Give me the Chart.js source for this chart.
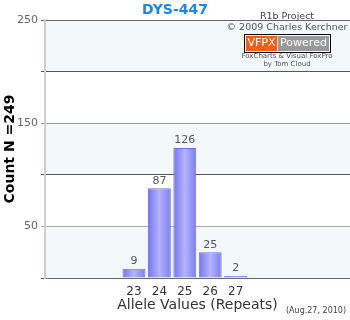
<!DOCTYPE html>
<html><head><meta charset="utf-8">
<script src="https://cdn.jsdelivr.net/npm/chart.js@4"></script>
<style>html,body{margin:0;padding:0;background:#fff}</style>
</head>
<body>
<canvas id="c" width="350" height="320" style="display:block;width:350px;height:320px"></canvas>
<script>
const categories = ['20','21','22','23','24','25','26','27','28','29','30','31'];
const shownCategories = ['23','24','25','26','27'];
const counts = [null,null,null,9,87,126,25,2,null,null,null,null];
const yTickLabels = [250,150,50];
const chartTitle = 'DYS-447';
const yTitle = 'Count N =249';
const xTitle = 'Allele Values (Repeats)';
const dateNote = '(Aug.27, 2010)';
const credits = ['R1b Project','\u00A9 2009 Charles Kerchner'];
const badge = ['VFPX','Powered'];
const credits2 = ['FoxCharts & Visual FoxPro','by Tom Cloud'];

const F = 'DejaVu Sans, Verdana, sans-serif';
const gridColors = {0:'#666',50:'#aaa',100:'#555',150:'#999',200:'#555',250:'#666'};

const bands = {
  id:'bands',
  beforeDraw(chart){
    const {ctx, chartArea:a, scales:{y}} = chart;
    ctx.save();
    ctx.fillStyle='#f3f8fa';
    [[0,50],[100,150],[200,250]].forEach(([lo,hi])=>{
      const t=y.getPixelForValue(hi), b=y.getPixelForValue(lo);
      ctx.fillRect(a.left,t,a.right-a.left,b-t);
    });
    ctx.restore();
  }
};

const labelsPlugin = {
  id:'valueLabels',
  afterDatasetsDraw(chart){
    const {ctx} = chart;
    const meta = chart.getDatasetMeta(0);
    ctx.save();
    ctx.font = '11px '+F;
    ctx.fillStyle = '#555';
    ctx.textAlign='center';
    ctx.textBaseline='bottom';
    meta.data.forEach((el,i)=>{
      const v = counts[i];
      if(v==null) return;
      ctx.fillText(String(v), el.x, el.y-2);
    });
    ctx.restore();
  }
};

const textPlugin = {
  id:'texts',
  afterDraw(chart){
    const {ctx} = chart;
    ctx.save();
    ctx.textAlign='center';
    ctx.textBaseline='middle';
    ctx.fillStyle='#1a88f0';
    ctx.font='bold 14px '+F;
    ctx.fillText(chartTitle,175,10);
    // credits
    ctx.fillStyle='#444';
    ctx.font='9.5px '+F;
    ctx.fillText(credits[0],287,17);
    ctx.fillStyle='#555';
    ctx.fillText(credits[1],287,28);
    // badge
    ctx.fillStyle='#000';
    ctx.fillRect(244,34,87,19);
    ctx.fillStyle='#fff';
    ctx.fillRect(245,35,85,17);
    ctx.fillStyle='#f06010';
    ctx.fillRect(246,36,31,15);
    ctx.fillStyle='#999';
    ctx.fillRect(278,36,51,15);
    ctx.fillStyle='#fff';
    ctx.font='11px '+F;
    ctx.fillText(badge[0],261.5,43.5);
    ctx.fillText(badge[1],303.5,43.5);
    ctx.fillStyle='#555';
    ctx.font='7px '+F;
    ctx.fillText(credits2[0],287,56);
    ctx.fillText(credits2[1],287,64);
    // date
    ctx.fillStyle='#444';
    ctx.font='8px '+F;
    ctx.fillText(dateNote,316,311);
    ctx.restore();
  }
};

function barGradient(c){
  const chart=c.chart;
  const x=chart.scales && chart.scales.x;
  if(!x || !chart.chartArea) return '#9090f8';
  const cx=x.getPixelForValue(c.dataIndex);
  const w=(x.right-x.left)/categories.length*0.9;
  const g=chart.ctx.createLinearGradient(cx-w/2,0,cx+w/2,0);
  g.addColorStop(0,'#7474ec');
  g.addColorStop(0.5,'#b4b4ff');
  g.addColorStop(1,'#7c7cf0');
  return g;
}

new Chart(document.getElementById('c'),{
  type:'bar',
  data:{labels:categories,datasets:[{
    data:counts,
    backgroundColor:barGradient,
    borderColor:'#7070ea',
    borderWidth:1,
    barPercentage:0.9,
    categoryPercentage:1
  }]},
  options:{
    responsive:false,
    animation:false,
    devicePixelRatio:1,
    layout:{padding:{top:20,right:0,left:0,bottom:0}},
    plugins:{legend:{display:false},title:{display:false},tooltip:{enabled:false}},
    scales:{
      x:{
        type:'category',
        grid:{display:false,drawTicks:false},
        border:{display:false},
        ticks:{
          autoSkip:false,maxRotation:0,padding:7,color:'#333',
          font:{family:F,size:12},
          callback(v,i){const l=categories[i];return shownCategories.includes(l)?l:'';}
        },
        title:{display:true,text:xTitle,color:'#333',font:{family:F,size:14},padding:{top:0,bottom:6}},
        afterFit(s){s.height=42;}
      },
      y:{
        min:0,max:250,
        grid:{
          color:(c)=>gridColors[c.tick.value]||'#888',
          tickColor:(c)=>gridColors[c.tick.value]||'#888',
          tickLength:4,lineWidth:1
        },
        border:{display:true,color:'#d0d0d0',width:2},
        ticks:{
          stepSize:50,padding:3,color:'#666',
          font:{family:F,size:11},
          callback(v){return yTickLabels.includes(v)?String(v):'';}
        },
        title:{display:true,text:yTitle,color:'#000',font:{family:F,size:14,weight:'bold'},padding:{top:2,bottom:0}},
        afterFit(s){s.width=45;}
      }
    }
  },
  plugins:[bands,labelsPlugin,textPlugin]
});
</script>
</body></html>
